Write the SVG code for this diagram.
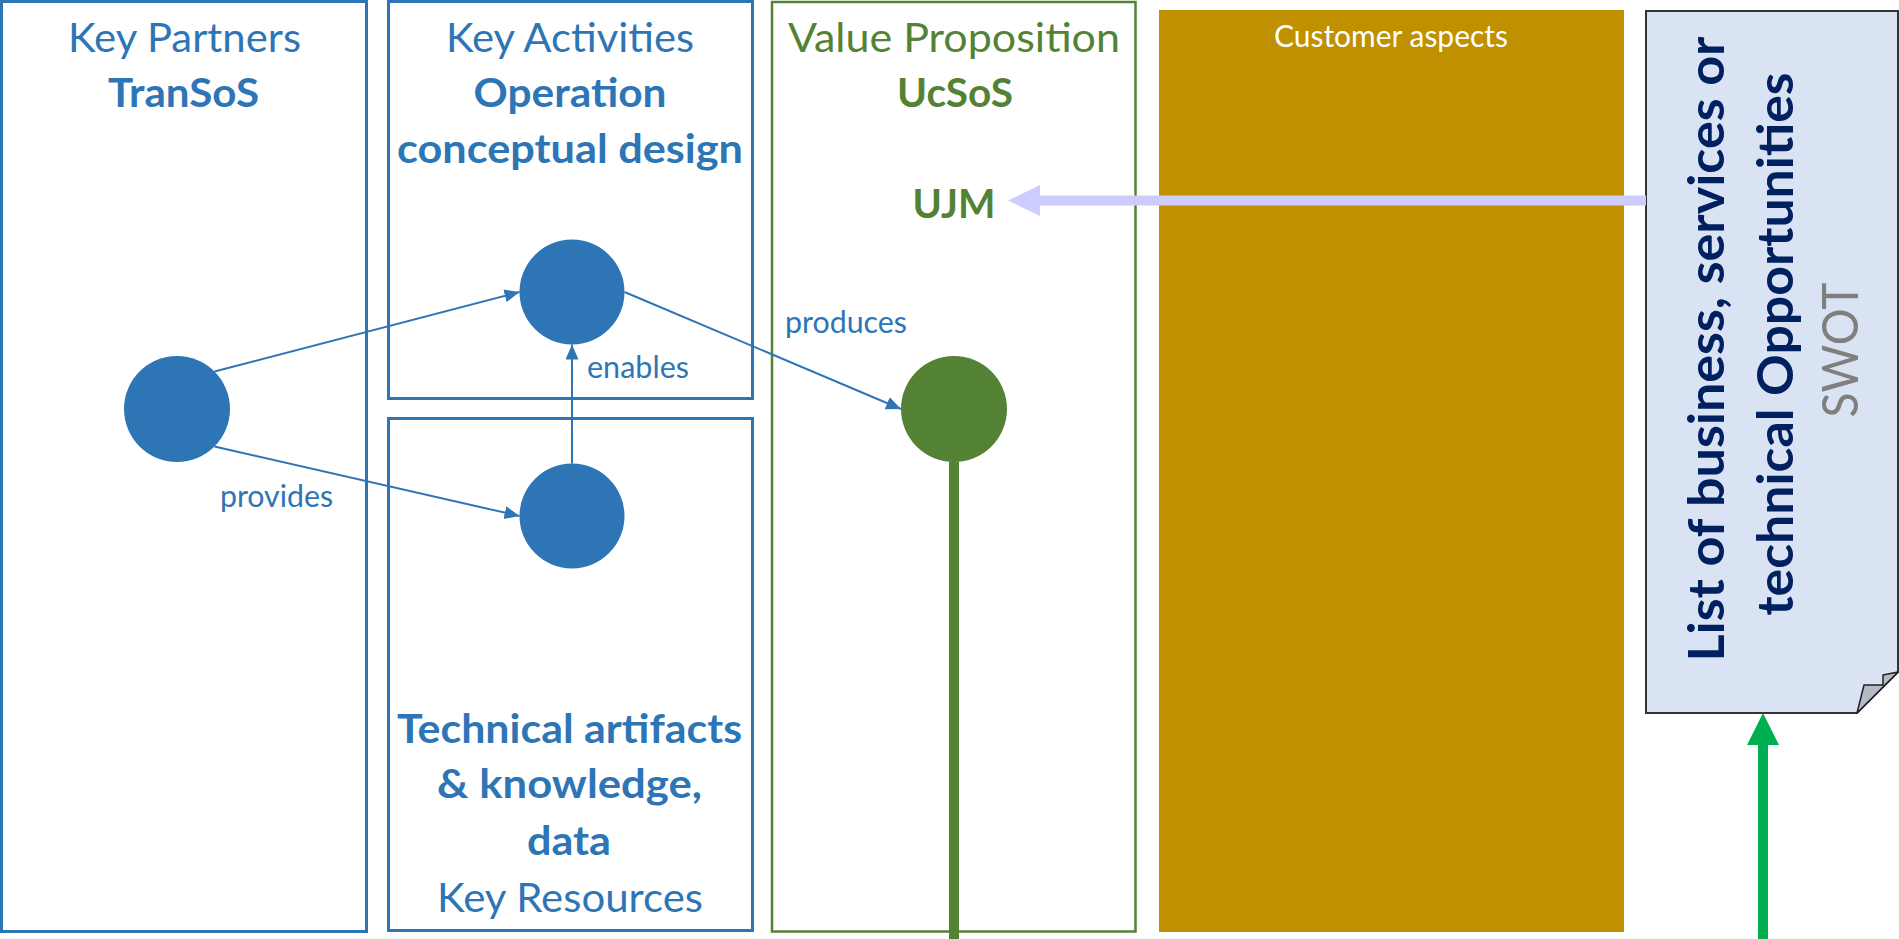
<svg xmlns="http://www.w3.org/2000/svg" width="1899" height="939" viewBox="0 0 1899 939">
<style>
.t{font-family:Lato,"Noto Sans","Liberation Sans",sans-serif;text-anchor:middle}
.h{font-size:40px}
.b{font-weight:bold}
.blue{fill:#2e75b6}
.green{fill:#548235}
.lbl{font-size:30px;fill:#2e75b6;font-family:Lato,"Noto Sans","Liberation Sans",sans-serif}
.box{fill:none;stroke:#2e75b6;stroke-width:3}
.con{stroke:#2e75b6;stroke-width:2;fill:none;marker-end:url(#ah)}
.node{fill:#2e75b6}
</style>
<defs>
<marker id="ah" markerUnits="userSpaceOnUse" markerWidth="16" markerHeight="14" refX="15" refY="6.5" orient="auto">
<path d="M0,0 L15,6.5 L0,13 z" fill="#2e75b6"/>
</marker>
</defs>
<rect width="1899" height="939" fill="#ffffff"/>

<g id="key-partners">
<rect class="box" x="1.5" y="1.5" width="365" height="930"/>
<text class="t h blue" x="184.5" y="52" textLength="233" lengthAdjust="spacingAndGlyphs">Key Partners</text>
<text class="t h b blue" x="183.5" y="107" textLength="151" lengthAdjust="spacingAndGlyphs">TranSoS</text>
</g>

<g id="key-activities">
<rect class="box" x="388.5" y="1.5" width="364" height="397"/>
<text class="t h blue" x="570" y="52" textLength="248" lengthAdjust="spacingAndGlyphs">Key Activities</text>
<text class="t h b blue" x="570" y="107" textLength="193" lengthAdjust="spacingAndGlyphs">Operation</text>
<text class="t h b blue" x="570" y="163" textLength="346" lengthAdjust="spacingAndGlyphs">conceptual design</text>
</g>

<g id="key-resources">
<rect class="box" x="388.5" y="418.5" width="364" height="512"/>
<text class="t h b blue" x="569.5" y="743" textLength="345" lengthAdjust="spacingAndGlyphs">Technical artifacts</text>
<text class="t h b blue" x="569.5" y="798" textLength="265" lengthAdjust="spacingAndGlyphs">&amp; knowledge,</text>
<text class="t h b blue" x="569" y="855" textLength="84" lengthAdjust="spacingAndGlyphs">data</text>
<text class="t h blue" x="570" y="912" textLength="266" lengthAdjust="spacingAndGlyphs">Key Resources</text>
</g>

<g id="value-proposition">
<rect x="772" y="2" width="363.5" height="929.5" fill="none" stroke="#548235" stroke-width="2.5"/>
<text class="t h green" x="954" y="52" textLength="332" lengthAdjust="spacingAndGlyphs">Value Proposition</text>
<text class="t h b green" x="955" y="107" textLength="116" lengthAdjust="spacingAndGlyphs">UcSoS</text>
<text class="t h b green" x="954" y="218" textLength="83" lengthAdjust="spacingAndGlyphs">UJM</text>
</g>

<g id="customer-aspects">
<rect x="1159" y="10" width="465" height="922" fill="#bf9000"/>
<text class="t" x="1391" y="47" font-size="30" fill="#ffffff" textLength="234" lengthAdjust="spacingAndGlyphs">Customer aspects</text>
</g>

<g id="opportunities-document">
<path d="M1646,11 L1898,11 L1898,672 L1857,713 L1646,713 Z" fill="#dae3f3" stroke="#333333" stroke-width="2"/>
<path d="M1857,713 L1864,685 L1883,685 L1883,675 L1898,672 Z" fill="#b4bac6" stroke="#222222" stroke-width="1.5" stroke-linejoin="round"/>
<text class="t b" transform="translate(1724,349) rotate(-90)" font-size="50" fill="#002060" textLength="625" lengthAdjust="spacingAndGlyphs">List of business, services or</text>
<text class="t b" transform="translate(1793,344) rotate(-90)" font-size="50" fill="#002060" textLength="543" lengthAdjust="spacingAndGlyphs">technical Opportunities</text>
<text class="t" transform="translate(1858,350) rotate(-90)" font-size="50" fill="#7f7f7f" textLength="135" lengthAdjust="spacingAndGlyphs">SWOT</text>
</g>

<g id="partner-node"><circle class="node" cx="177" cy="409" r="53"/></g>
<g id="activity-node"><circle class="node" cx="572" cy="292" r="52.5"/></g>
<g id="resource-node"><circle class="node" cx="572" cy="516" r="52.5"/></g>
<g id="value-node"><circle cx="954" cy="409" r="53" fill="#548235"/></g>

<g id="connectors">
<line class="con" x1="214.5" y1="371.5" x2="519.5" y2="292"/>
<line class="con" x1="214.5" y1="446.5" x2="519.5" y2="516"/>
<line class="con" x1="572" y1="463.5" x2="572" y2="344.5"/>
<line class="con" x1="624.5" y1="292" x2="901" y2="409"/>
<line x1="954" y1="462" x2="954" y2="939" stroke="#548235" stroke-width="10"/>
<line x1="1646" y1="200.5" x2="1038" y2="200.5" stroke="#ccccff" stroke-width="10"/>
<polygon points="1008,200.5 1040,185 1040,216" fill="#ccccff"/>
<line x1="1763" y1="939" x2="1763" y2="743" stroke="#00b050" stroke-width="10"/>
<polygon points="1763,713 1747,745 1779,745" fill="#00b050"/>
<text class="lbl" x="220" y="507" textLength="113" lengthAdjust="spacingAndGlyphs">provides</text>
<text class="lbl" x="587" y="378" textLength="102" lengthAdjust="spacingAndGlyphs">enables</text>
<text class="lbl" x="785" y="333" textLength="122" lengthAdjust="spacingAndGlyphs">produces</text>
</g>
</svg>
